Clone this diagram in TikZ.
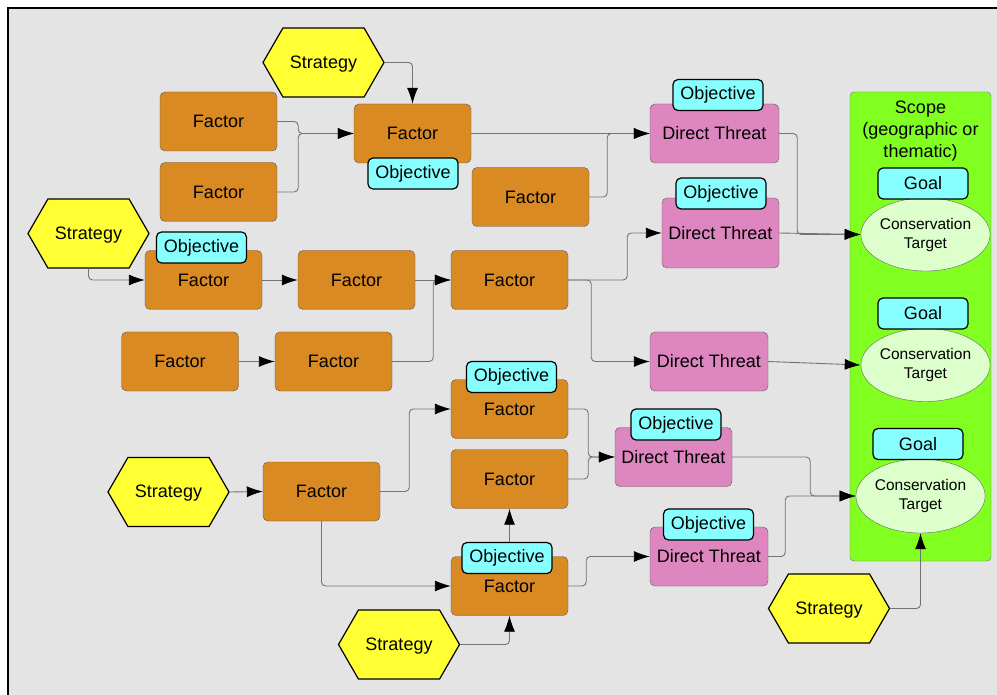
\documentclass[tikz,border=0pt]{standalone}
\usepackage{fontspec}
\setmainfont{Liberation Sans}
\usetikzlibrary{shapes.geometric,shapes.symbols,arrows.meta}
\definecolor{bgc}{RGB}{228,228,228}
\definecolor{factorc}{RGB}{218,138,35}
\definecolor{threatc}{RGB}{222,134,191}
\definecolor{objc}{RGB}{136,255,255}
\definecolor{stratc}{RGB}{255,255,51}
\definecolor{scopec}{RGB}{128,255,32}
\definecolor{targetc}{RGB}{221,255,204}

\begin{document}
\begin{tikzpicture}[x=1pt,y=-1pt,
	every node/.style={font=\fontsize{18}{21}\selectfont, inner sep=0pt},
	factor/.style={draw=black!65, fill=factorc, rounded corners=5pt, minimum width=117pt, minimum height=59pt},
	threat/.style={factor, fill=threatc},
	objective/.style={draw=black, line width=1.2pt, fill=objc, rounded corners=5pt, minimum width=90pt, minimum height=31pt},
	strategy/.style={signal, signal to=east and west, signal pointer angle=120, draw=black, line width=1.2pt, fill=stratc, minimum width=121pt, minimum height=69pt, text depth=1pt},
	target/.style={ellipse, draw=black!60, fill=targetc, minimum width=126pt, minimum height=73pt, align=center, font=\fontsize{15.5}{19}\selectfont},
	conn/.style={draw=black!55, line width=0.9pt, rounded corners=4pt, -{Latex[black,length=16pt,width=11pt]}}]
	\useasboundingbox (0,0) rectangle (997,695);
	\fill[bgc] (8,8) rectangle (997,695);
	\draw[line width=1.5pt] (8,695) -- (8,8) -- (997,8);

	% scope with targets
	\node[draw=black!55, fill=scopec, rounded corners=4pt, minimum width=141pt, minimum height=469pt](scope) at (920.5,326.5) {};
	\node[align=center, font=\fontsize{18}{22}\selectfont](scopetxt) at (920.5,131) {Scope\\(geographic or\\thematic)};
	\node[target](ct1) at (925.5,234.5) {Conservation\\Target};
	\node[objective](goal1) at (923,183.5) {Goal};
	\node[target](ct2) at (925.5,365) {Conservation\\Target};
	\node[objective](goal2) at (923,313.5) {Goal};
	\node[target, minimum width=127pt, minimum height=74pt](ct3) at (920.5,496) {Conservation\\Target};
	\node[objective](goal3) at (918,444) {Goal};

	% strategies
	\node[strategy](s1) at (323.5,62.5) {Strategy};
	\node[strategy](s2) at (88.5,233.5) {Strategy};
	\node[strategy](s3) at (168.5,492) {Strategy};
	\node[strategy](s4) at (399,644.5) {Strategy};
	\node[strategy](s5) at (829,608.5) {Strategy};

	% factors
	\node[factor](fA) at (218.5,121.5) {Factor};
	\node[factor](fB) at (218.5,192) {Factor};
	\node[factor](fC) at (412.5,133.5) {Factor};
	\node[factor](fD) at (530.5,197) {Factor};
	\node[factor](fE) at (203.5,280) {Factor};
	\node[factor](fF) at (356.5,280) {Factor};
	\node[factor](fG) at (509.5,280) {Factor};
	\node[factor](fH) at (180,361.5) {Factor};
	\node[factor](fI) at (333.5,361.5) {Factor};
	\node[factor](fJ) at (509.5,409) {Factor};
	\node[factor](fK) at (509.5,479) {Factor};
	\node[factor](fL) at (321.5,491.5) {Factor};
	\node[factor](fM) at (509.5,586) {Factor};

	% direct threats
	\node[threat, minimum width=129pt](dt1) at (714.5,133.5) {Direct Threat};
	\node[threat, minimum height=70pt](dt2) at (720.5,233) {Direct Threat};
	\node[threat, minimum width=118pt](dt3) at (709,361.5) {Direct Threat};
	\node[threat](dt4) at (673.5,457) {Direct Threat};
	\node[threat, minimum width=118pt](dt5) at (709,556.5) {Direct Threat};

	% objectives
	\node[objective](objC) at (413,173.5) {Objective};
	\node[objective](objE) at (201.5,247.5) {Objective};
	\node[objective](objJ) at (511.5,377) {Objective};
	\node[objective](objM) at (507,558) {Objective};
	\node[objective](objD1) at (718,95) {Objective};
	\node[objective](objD2) at (721,193.5) {Objective};
	\node[objective](objD4) at (676,424.5) {Objective};
	\node[objective](objD5) at (708.5,524.5) {Objective};

	% links
	\draw[conn](s1.east) -| (fC.north);
	\draw[conn](fA.east) -- ++(21,0) |- (fC.west);
	\draw[conn](fB.east) -- ++(21,0) |- (fC.west);
	\draw[conn](fC.east) -- (dt1.west);
	\draw[conn](fD.east) -- ++(18,0) |- (dt1.west);
	\draw[conn](dt1.east) -- ++(18,0) |- (ct1.west);
	\draw[conn](dt2.east) -- (ct1.west);

	\draw[conn](s2.south) |- (fE.west);
	\draw[conn](fE.east) -- (fF.west);
	\draw[conn](fF.east) -- (fG.west);
	\draw[conn](fH.east) -- (fI.west);
	\draw[conn](fI.east) -- ++(41,0) |- (fG.west);
	\draw[conn](fG.east) -- ++(59,0) |- (dt2.west);
	\draw[conn](fG.east) -- ++(23,0) |- (dt3.west);
	\draw[conn](dt3.east) -- (ct2.west);

	\draw[conn](s3.east) -- (fL.west);
	\draw[conn](fL.east) -- ++(29,0) |- (fJ.west);
	\draw[conn](fL.south) |- (fM.west);
	\draw[conn](fJ.east) -- ++(20,0) |- (dt4.west);
	\draw[conn](fK.east) -- ++(20,0) |- (dt4.west);
	\draw[conn](fK.south |- objM.north) -- (fK.south);
	\draw[conn](s4.east) -| (fM.south);
	\draw[conn](fM.east) -- ++(18,0) |- (dt5.west);
	\draw[conn](dt4.east) -- ++(78,0) |- (ct3.west);
	\draw[conn](dt5.east) -- ++(17,0) |- (ct3.west);
	\draw[conn](s5.east) -| (ct3.south);
\end{tikzpicture}
\end{document}
